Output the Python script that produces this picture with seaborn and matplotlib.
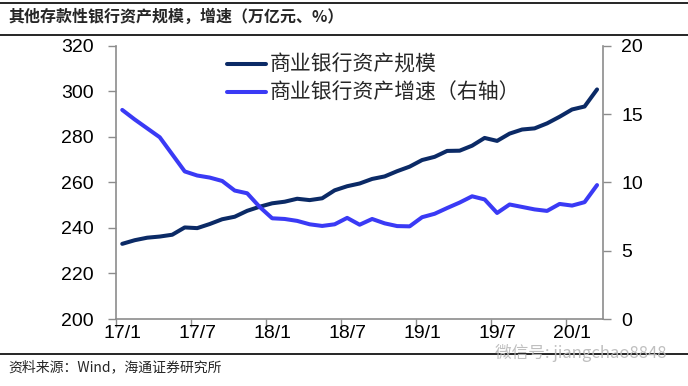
import numpy as np
import pandas as pd
import matplotlib
matplotlib.use("Agg")
import matplotlib.pyplot as plt
import seaborn as sns
from matplotlib.lines import Line2D

# ---- data ----
months = [f"{y}/{m}" for y in (17, 18, 19) for m in range(1, 13)] + ["20/1", "20/2", "20/3"]
scale = [233.0, 234.6, 235.7, 236.2, 237.0, 240.2, 239.9, 241.7, 243.8, 244.9, 247.5, 249.3,
         250.8, 251.5, 252.8, 252.2, 253.0, 256.5, 258.3, 259.5, 261.5, 262.6, 264.9, 266.9,
         269.8, 271.2, 273.8, 273.9, 276.1, 279.5, 278.2, 281.4, 283.2, 283.7, 285.9, 288.8,
         292.0, 293.3, 300.8]
growth = [15.3, 14.6, 13.95, 13.3, 12.05, 10.8, 10.5, 10.35, 10.1, 9.4, 9.2, 8.2,
          7.37, 7.32, 7.18, 6.93, 6.81, 6.93, 7.4, 6.9, 7.32, 7.0, 6.8, 6.78,
          7.45, 7.7, 8.12, 8.52, 8.98, 8.75, 7.76, 8.38, 8.2, 8.02, 7.91, 8.42,
          8.3, 8.55, 9.8]
tick_labels = ["17/1", "17/7", "18/1", "18/7", "19/1", "19/7", "20/1"]
left_ticks = [200, 220, 240, 260, 280, 300, 320]
right_ticks = [0, 5, 10, 15, 20]
series_names = ["商业银行资产规模", "商业银行资产增速（右轴）"]
title = "其他存款性银行资产规模，增速（万亿元、%）"
source = "资料来源：Wind，海通证券研究所"

DARK = "#0B2A66"
BLUE = "#3A3AF5"
GRAY = "#8C8C8C"
CJK = ["Noto Sans CJK SC", "DejaVu Sans"]

sns.set_theme(style="white")
plt.rcParams["font.family"] = ["Liberation Sans", "Noto Sans CJK SC", "DejaVu Sans"]

W, H = 688, 386
fig = plt.figure(figsize=(W / 100, H / 100), dpi=100)
L, R, T, B = 116, 603.3, 45.7, 319
ax = fig.add_axes([L / W, 1 - B / H, (R - L) / W, (B - T) / H])

df = pd.DataFrame({"month": months, "scale": scale, "growth": growth})
df["pos"] = np.arange(len(df)) + 0.5

line_kw = dict(linewidth=2.9, solid_joinstyle="round", solid_capstyle="round")
sns.lineplot(data=df, x="pos", y="scale", ax=ax, color=DARK, **line_kw)
ax2 = ax.twinx()
sns.lineplot(data=df, x="pos", y="growth", ax=ax2, color=BLUE, **line_kw)

ax.set_xlim(0, len(df))
ax.set_ylim(200, 320)
ax2.set_ylim(0, 20)
ax.set_yticks(left_ticks)
ax2.set_yticks(right_ticks)
ax.set_xlabel("")
ax.set_ylabel("")
ax2.set_ylabel("")

major = np.arange(0, len(df), 6)
ax.set_xticks(major)
ax.set_xticklabels([])
ax.set_xticks(major + 0.5, minor=True)
ax.set_xticklabels(tick_labels, minor=True)

ax.tick_params(axis="x", which="major", length=6, width=1, color=GRAY, direction="out", bottom=True)
ax.tick_params(axis="x", which="minor", length=0, pad=4, labelsize=14, labelcolor="black", bottom=True)
ax.tick_params(axis="y", length=6, width=1, color=GRAY, direction="out", left=True, pad=10,
               labelsize=14, labelcolor="black")
ax2.tick_params(axis="y", length=6, width=1, color=GRAY, direction="out", right=True, pad=7,
                labelsize=14, labelcolor="black")

for a in (ax, ax2):
    a.spines["top"].set_visible(False)
    for s in a.spines.values():
        s.set_color(GRAY)
        s.set_linewidth(1.2)
ax.spines["right"].set_visible(False)
ax2.spines["left"].set_visible(False)
ax2.spines["bottom"].set_visible(False)
ax.grid(False)
ax2.grid(False)

handles = [Line2D([], [], color=DARK, lw=2.9), Line2D([], [], color=BLUE, lw=2.9)]
leg = ax2.legend(handles, series_names, loc="center left",
                 bbox_to_anchor=(226.7 / W, 1 - 79 / H), bbox_transform=fig.transFigure,
                 frameon=False, borderpad=0, borderaxespad=0, handlelength=1.9,
                 handletextpad=0.15, labelspacing=0.28,
                 prop={"family": CJK, "size": 15})

# title, rules and source
fig.text(8 / W, 1 - 17 / H, title, fontsize=11.5, fontweight="bold", family=CJK,
         ha="left", va="center")
fig.add_artist(Line2D([0, 1], [1 - 2.5 / H, 1 - 2.5 / H], color="black", lw=1.2))
fig.add_artist(Line2D([0, 1], [1 - 34.5 / H, 1 - 34.5 / H], color="black", lw=1.2))
fig.add_artist(Line2D([0, 1], [1 - 354 / H, 1 - 354 / H], color="black", lw=1.2))
fig.text(8 / W, 1 - 367 / H, source, fontsize=10, family=CJK, ha="left", va="center")
fig.text(495 / W, 1 - 353 / H, "微信号: jiangchao8848", fontsize=12, family=CJK,
         color="#B8B8B8", ha="left", va="center", alpha=0.9)

fig.savefig("out.png", dpi=100, facecolor="white")
